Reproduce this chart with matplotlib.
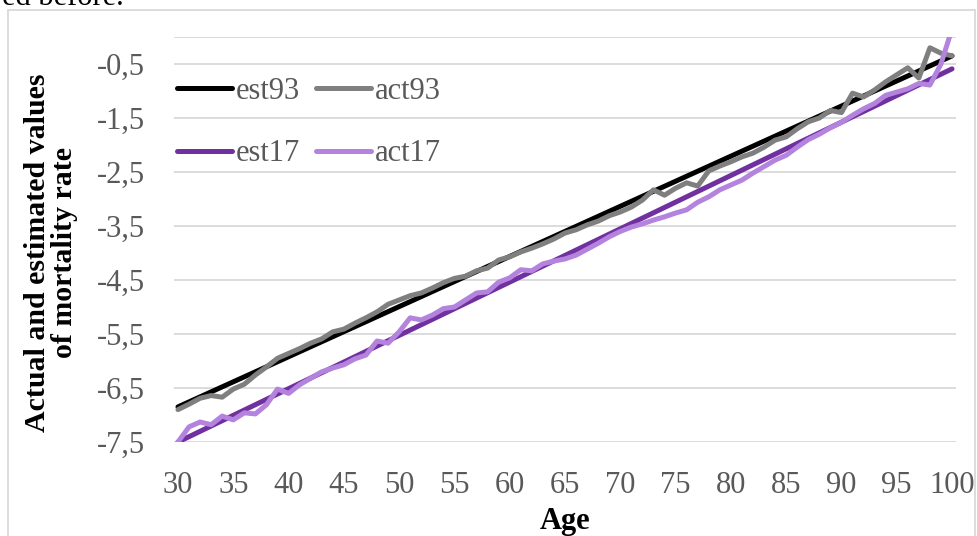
import matplotlib
matplotlib.use("Agg")
import matplotlib.pyplot as plt
from matplotlib.patches import Rectangle
import numpy as np

plt.rcParams['font.family'] = ['Liberation Serif', 'DejaVu Serif']

# ages on the x axis
ages = list(range(30, 101))

# fitted lines (straight, read at both ends)
est_ages = [30, 100]
est93 = [-6.85, -0.35]
est17 = [-7.50, -0.59]

# actual log mortality rates, ages 30..100
act93 = [-6.90, -6.80, -6.69, -6.64, -6.67, -6.52, -6.43, -6.26, -6.11, -5.95,
         -5.86, -5.77, -5.67, -5.59, -5.46, -5.41, -5.30, -5.20, -5.09, -4.95,
         -4.87, -4.79, -4.74, -4.65, -4.55, -4.47, -4.43, -4.33, -4.28, -4.13,
         -4.07, -3.98, -3.91, -3.83, -3.74, -3.63, -3.57, -3.48, -3.41, -3.31,
         -3.24, -3.15, -3.02, -2.83, -2.93, -2.80, -2.70, -2.76, -2.48, -2.39,
         -2.31, -2.22, -2.15, -2.04, -1.91, -1.85, -1.70, -1.57, -1.50, -1.36,
         -1.40, -1.04, -1.11, -0.98, -0.83, -0.70, -0.57, -0.76, -0.20, -0.30,
         -0.35]
act17 = [-7.50, -7.22, -7.13, -7.18, -7.02, -7.09, -6.96, -6.98, -6.81, -6.52,
         -6.60, -6.44, -6.32, -6.20, -6.13, -6.07, -5.96, -5.89, -5.63, -5.67,
         -5.46, -5.20, -5.24, -5.15, -5.03, -5.00, -4.87, -4.74, -4.72, -4.54,
         -4.46, -4.31, -4.33, -4.20, -4.15, -4.11, -4.04, -3.93, -3.82, -3.70,
         -3.60, -3.52, -3.46, -3.39, -3.33, -3.26, -3.20, -3.06, -2.96, -2.83,
         -2.74, -2.65, -2.52, -2.40, -2.28, -2.19, -2.04, -1.90, -1.80, -1.68,
         -1.58, -1.45, -1.33, -1.23, -1.08, -1.02, -0.96, -0.86, -0.89, -0.50,
         0.15]

yticks = [-7.5, -6.5, -5.5, -4.5, -3.5, -2.5, -1.5, -0.5]
xticks = list(range(30, 101, 5))

W, H = 978, 536
fig = plt.figure(figsize=(W / 100, H / 100), dpi=100)
ax = fig.add_axes([174 / W, 1 - 442 / H, 782 / W, 405 / H])

grey_txt = '#595959'
fs = 22
lw = 3.6
l1, = ax.plot(est_ages, est93, color='black', lw=lw, solid_capstyle='round', label='est93')
l2, = ax.plot(ages, act93, color='#7f7f7f', lw=lw, solid_capstyle='round', label='act93')
l3, = ax.plot(est_ages, est17, color='#7030a0', lw=lw, solid_capstyle='round', label='est17')
l4, = ax.plot(ages, act17, color='#b383de', lw=lw, solid_capstyle='round', label='act17')

ax.set_xlim(29.64, 100.36)
ax.set_ylim(-7.5, 0)
ax.set_yticks(yticks)
ax.set_yticklabels([f"{v:.1f}".replace('.', ',') for v in yticks])
ax.set_xticks(xticks)
for y in yticks + [0]:
    ax.axhline(y, color='#d9d9d9', lw=1.3, zorder=0)
for s in ax.spines.values():
    s.set_visible(False)
ax.tick_params(axis='both', length=0, labelsize=fs, colors=grey_txt)
ax.tick_params(axis='y', pad=21)
ax.tick_params(axis='x', pad=21)

ax.set_xlabel('Age', fontsize=fs, fontweight='bold', labelpad=5)
ax.set_ylabel('Actual and estimated values\nof mortality rate', fontsize=21.5,
              fontweight='bold', linespacing=1.0)
ax.yaxis.set_label_coords(-0.123, 0.467)

leg = ax.legend(handles=[l1, l3, l2, l4], ncol=2, loc='upper left',
                bbox_to_anchor=(0.004, 0.902), frameon=False, fontsize=fs,
                handlelength=1.8, handletextpad=0.13, columnspacing=0.52,
                labelspacing=1.1, borderpad=0, borderaxespad=0)
for t in leg.get_texts():
    t.set_color(grey_txt)

# outer chart border and the clipped text line above it
fig.patches.append(Rectangle((8 / W, -0.01), 967 / W, 1.01 - 10 / H,
                             transform=fig.transFigure, fill=False,
                             edgecolor='#d9d9d9', lw=1.3))
fig.text(2 / W, 1 - 5 / H, 'ed before.', fontsize=fs, va='baseline', ha='left')

fig.savefig('out.png', dpi=100)
